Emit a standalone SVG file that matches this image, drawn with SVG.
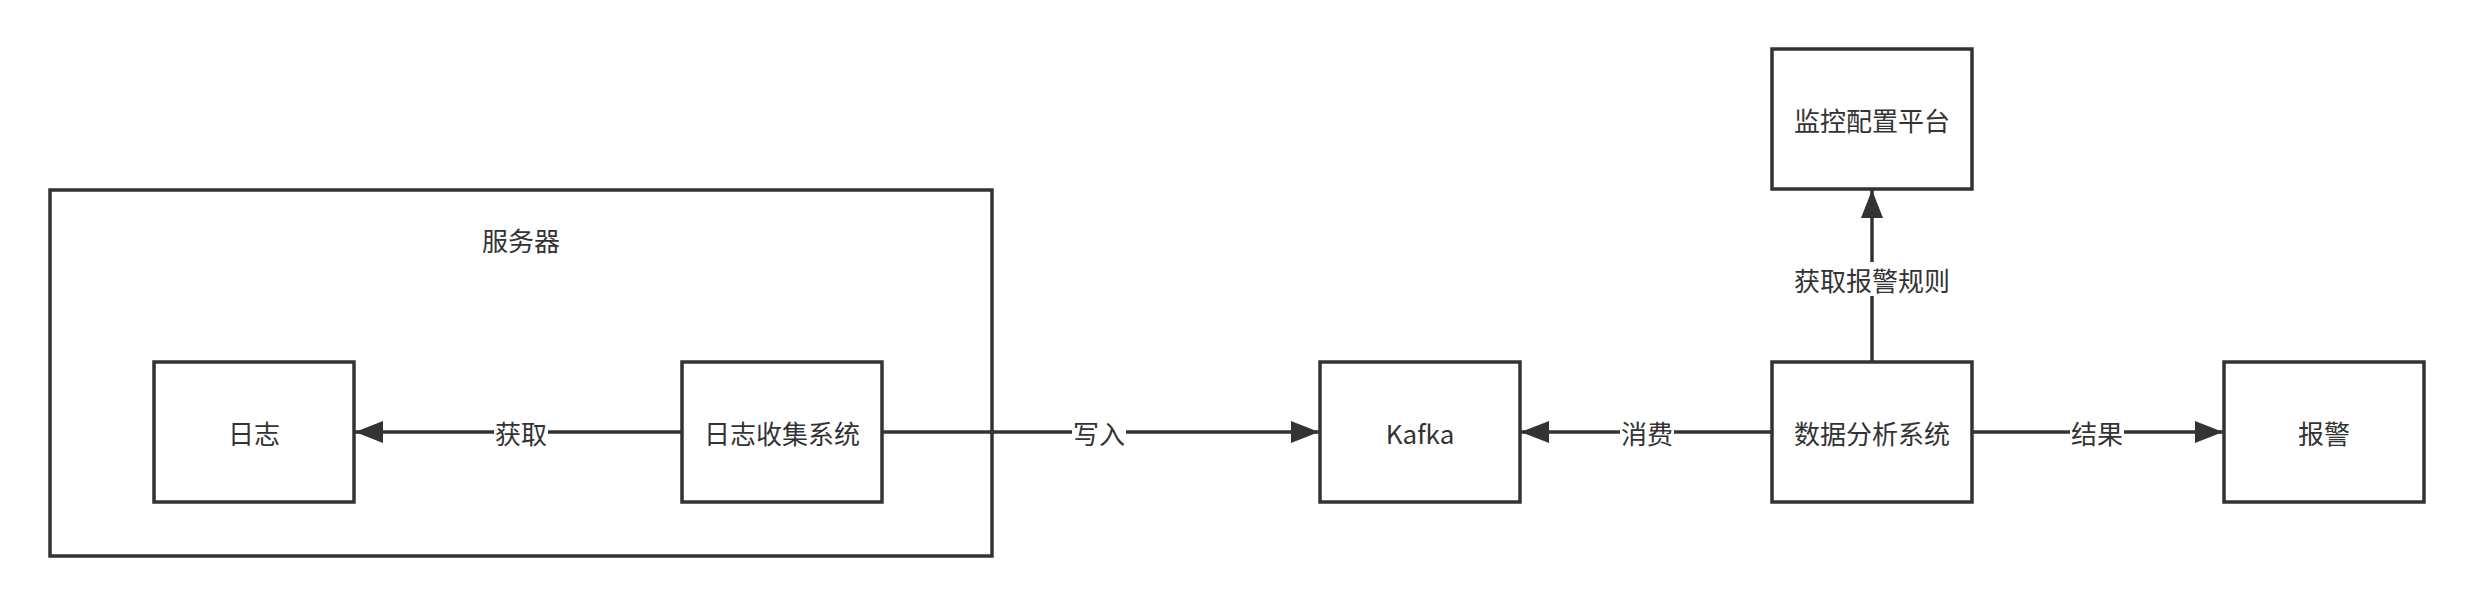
<svg xmlns="http://www.w3.org/2000/svg" width="2474" height="606" viewBox="0 0 2474 606">
<style>
.box{fill:#fff;stroke:#333;stroke-width:3.5}
.t{font-family:"Noto Sans CJK SC","Noto Sans",sans-serif;font-size:26px;fill:#333;text-anchor:middle;dominant-baseline:central}
.e{stroke:#333;stroke-width:3.5;fill:none}
.lb{fill:#fff}
</style>
<defs>
<marker id="arr" viewBox="0 0 28 22" refX="28" refY="11" markerWidth="28" markerHeight="22" markerUnits="userSpaceOnUse" orient="auto">
<path d="M0,0 L28,11 L0,22 Z" fill="#333"/>
</marker>
</defs>
<rect width="2474" height="606" fill="#fff"/>
<g id="server">
<rect class="box" x="50" y="190" width="942" height="366"/>
<text class="t" x="521" y="239">服务器</text>
</g>
<g id="log">
<rect class="box" x="154" y="362" width="200" height="140"/>
<text class="t" x="254" y="432">日志</text>
</g>
<g id="collector">
<rect class="box" x="682" y="362" width="200" height="140"/>
<text class="t" x="782" y="432">日志收集系统</text>
</g>
<g id="kafka">
<rect class="box" x="1320" y="362" width="200" height="140"/>
<text class="t" x="1420" y="432">Kafka</text>
</g>
<g id="analysis">
<rect class="box" x="1772" y="362" width="200" height="140"/>
<text class="t" x="1872" y="432">数据分析系统</text>
</g>
<g id="monitor">
<rect class="box" x="1772" y="49" width="200" height="140"/>
<text class="t" x="1872" y="119">监控配置平台</text>
</g>
<g id="alarm">
<rect class="box" x="2224" y="362" width="200" height="140"/>
<text class="t" x="2324" y="432">报警</text>
</g>
<g id="connectors">
<line class="e" x1="682" y1="432" x2="355" y2="432" marker-end="url(#arr)"/>
<rect class="lb" x="494" y="416" width="54" height="32"/>
<text class="t" x="521" y="432">获取</text>
<line class="e" x1="882" y1="432" x2="1319" y2="432" marker-end="url(#arr)"/>
<rect class="lb" x="1072" y="416" width="54" height="32"/>
<text class="t" x="1099" y="432">写入</text>
<line class="e" x1="1772" y1="432" x2="1521" y2="432" marker-end="url(#arr)"/>
<rect class="lb" x="1620" y="416" width="54" height="32"/>
<text class="t" x="1647" y="432">消费</text>
<line class="e" x1="1872" y1="362" x2="1872" y2="190" marker-end="url(#arr)"/>
<rect class="lb" x="1792" y="262" width="160" height="34"/>
<text class="t" x="1872" y="279">获取报警规则</text>
<line class="e" x1="1972" y1="432" x2="2223" y2="432" marker-end="url(#arr)"/>
<rect class="lb" x="2070" y="416" width="54" height="32"/>
<text class="t" x="2097" y="432">结果</text>
</g>
</svg>
